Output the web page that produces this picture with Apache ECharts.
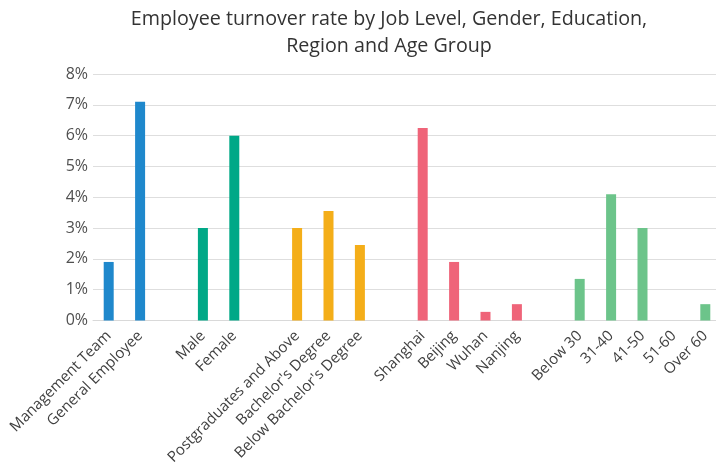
<!DOCTYPE html>
<html>
<head>
<meta charset="utf-8">
<script src="https://cdn.jsdelivr.net/npm/echarts@6/dist/echarts.min.js"></script>
<style>
  html, body { margin: 0; padding: 0; background: #fff; }
  #chart { width: 716px; height: 464px; }
</style>
</head>
<body>
<div id="chart"></div>
<script>
// turnover rate, in percent
const jobLevelNames = ['Management Team', 'General Employee'];
const jobLevelValues = [1.9, 7.1];
const genderNames = ['Male', 'Female'];
const genderValues = [3.0, 6.0];
const educationNames = ['Postgraduates and Above', "Bachelor's Degree", "Below Bachelor's Degree"];
const educationValues = [3.0, 3.55, 2.45];
const regionNames = ['Shanghai', 'Beijing', 'Wuhan', 'Nanjing'];
const regionValues = [6.25, 1.9, 0.28, 0.53];
const ageNames = ['Below 30', '31-40', '41-50', '51-60', 'Over 60'];
const ageValues = [1.35, 4.1, 3.0, 0, 0.53];
const yTicks = [0, 1, 2, 3, 4, 5, 6, 7, 8];

const groups = [
  { names: jobLevelNames, values: jobLevelValues, color: '#1f88cc' },
  { names: genderNames, values: genderValues, color: '#00a887' },
  { names: educationNames, values: educationValues, color: '#f4ae19' },
  { names: regionNames, values: regionValues, color: '#ef6479' },
  { names: ageNames, values: ageValues, color: '#6cc48a' }
];

const categories = [];
const barData = [];
groups.forEach((g, gi) => {
  if (gi > 0) {
    categories.push(' '.repeat(gi)); // empty slot between groups
    barData.push('-');
  }
  g.names.forEach((n, i) => {
    categories.push(n);
    barData.push({ value: g.values[i], itemStyle: { color: g.color } });
  });
});

const myChart = echarts.init(document.getElementById('chart'));
const option = {
  animation: false,
  textStyle: { fontFamily: 'Open Sans' },
  title: {
    text: 'Employee turnover rate by Job Level, Gender, Education,\nRegion and Age Group',
    left: 384,
    textAlign: 'center',
    top: 1,
    textStyle: {
      fontFamily: 'Open Sans',
      fontSize: 19.7,
      fontWeight: 'normal',
      color: '#333',
      lineHeight: 27
    }
  },
  grid: {
    left: 93,
    right: -5,
    top: 74,
    bottom: 143.5,
    outerBoundsMode: 'none'
  },
  xAxis: {
    type: 'category',
    data: categories,
    axisTick: { show: false },
    axisLine: { lineStyle: { color: '#d9d9d9', width: 1 } },
    axisLabel: {
      interval: 0,
      rotate: 45,
      margin: 13,
      fontSize: 15,
      color: '#404040',
      fontFamily: 'Open Sans'
    }
  },
  yAxis: {
    type: 'value',
    min: yTicks[0],
    max: yTicks[yTicks.length - 1],
    interval: 1,
    axisLabel: {
      formatter: '{value}%',
      fontSize: 16,
      color: '#505050',
      margin: 5,
      fontFamily: 'Open Sans'
    },
    splitLine: { lineStyle: { color: '#dedede', width: 1 } }
  },
  series: [
    {
      type: 'bar',
      data: barData,
      barWidth: 10
    }
  ]
};
myChart.setOption(option);
window.onresize = () => {
  myChart.resize();
};
</script>
</body>
</html>
